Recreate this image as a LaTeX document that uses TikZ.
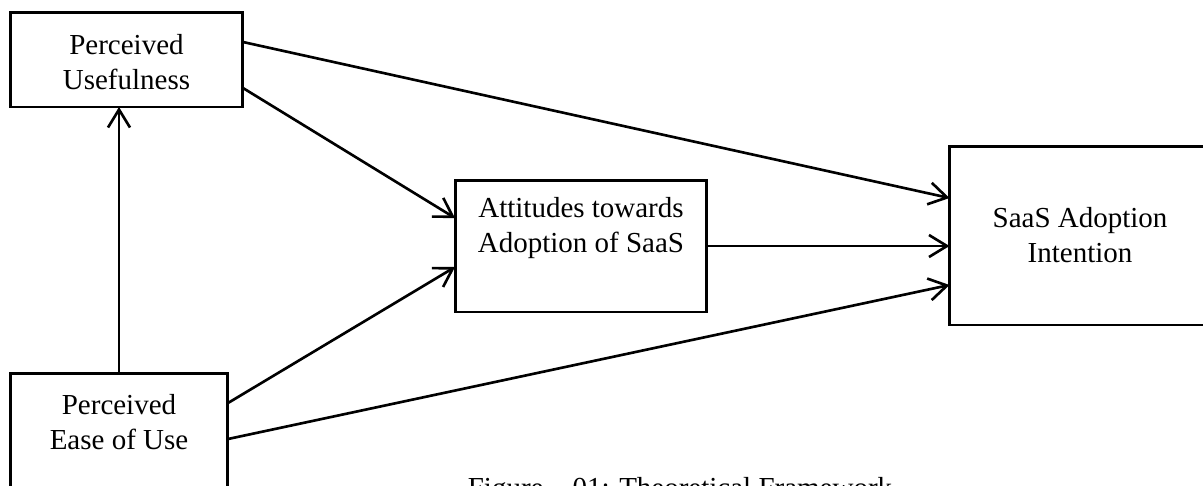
\documentclass[tikz,border=0pt]{standalone}
\usepackage{fontspec}
\setmainfont{Liberation Serif}
\usetikzlibrary{arrows.meta}

\begin{document}
\begin{tikzpicture}[x=0.02cm,y=-0.02cm,>={Straight Barb[length=3.6mm,width=4.4mm,line width=1.5pt]},
	font=\fontsize{16.5}{20}\selectfont,
	box/.style={draw=black,line width=1.7pt,outer sep=0pt,inner sep=0pt},
	txt/.style={align=center,inner sep=0pt},
	link/.style={->,line width=1.5pt}]
	\useasboundingbox (0,0) rectangle (1203,485);
	\clip (0,0) rectangle (1203,485);

	\node [box,minimum width=4.66cm,minimum height=1.9cm] at (126.5,59.5) (pu) {};
	\node [txt] at (pu.center) [yshift=-0.06cm] (pu_txt) {Perceived\\Usefulness};

	\node [box,minimum width=4.36cm,minimum height=2.8cm] at (119,443) (peou) {};
	\node [txt] at (119,422) (peou_txt) {Perceived\\Ease of Use};

	\node [box,minimum width=5.04cm,minimum height=2.64cm] at (581,246) (att) {};
	\node [txt] at (581,228) (att_txt) {Attitudes towards\\Adoption of SaaS};

	\node [box,minimum width=5.3cm,minimum height=3.58cm] at (1082,235.5) (sai) {};
	\node [txt] at (1080,235) (sai_txt) {SaaS Adoption\\Intention};

	\node [inner sep=0pt,anchor=base] at (680,497) (caption) {Figure -- 01: Theoretical Framework};

	\draw[link] (peou.north) -- (peou.north |- pu.south);
	\draw[link] ([yshift=0.35cm]pu.east) -- ([yshift=0.75cm]sai.west);
	\draw[link] ([yshift=-0.57cm]pu.east) -- ([yshift=0.56cm]att.west);
	\draw[link] ([yshift=-0.6cm]peou.north east) -- ([yshift=-0.42cm]att.west);
	\draw[link] ([yshift=-1.32cm]peou.north east) -- ([yshift=-0.99cm]sai.west);
	\draw[link] (att.east) -- (att.east -| sai.west);
\end{tikzpicture}
\end{document}
